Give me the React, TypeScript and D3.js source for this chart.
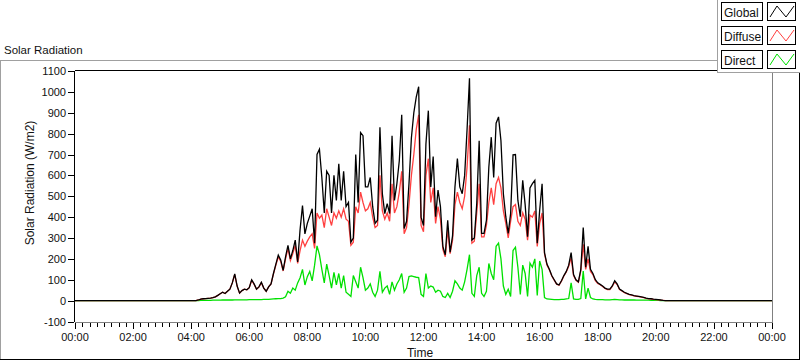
import React from 'react';
import * as d3 from 'd3';

const W = 800;
const H = 361;

const seriesNames = ['Global', 'Diffuse', 'Direct'];
const seriesColors = ['#000000', '#ff4040', '#00e000'];
const yTickValues = [-100, 0, 100, 200, 300, 400, 500, 600, 700, 800, 900, 1000, 1100];
const xTickLabels = ['00:00', '02:00', '04:00', '06:00', '08:00', '10:00', '12:00', '14:00', '16:00', '18:00', '20:00', '22:00', '00:00'];

// samples every 5 minutes from 04:00 to 20:30 (values in W/m2)
const startMinute = 240;
const stepMinutes = 5;

const globalValues = [
  0, 0, 0, 3, 7, 9, 10, 11, 12, 14, 18, 25, 33,
  40, 34, 45, 55, 85, 128, 70, 36, 48, 55, 52, 62,
  100, 80, 55, 66, 88, 60, 45, 66, 80, 130, 175, 218,
  195, 145, 210, 265, 200, 240, 290, 185, 340, 455, 320, 370,
  405, 440, 275, 700, 725, 590, 420, 620, 600, 420, 600, 480,
  655, 480, 620, 450, 470, 280, 300, 700, 470, 805, 790, 545,
  545, 590, 450, 370, 385, 830, 512, 417, 465, 417, 790, 480,
  560, 670, 890, 345, 380, 560, 780, 900, 975, 1025, 400, 360,
  750, 910, 545, 690, 402, 530, 450, 260, 220, 385, 232, 310,
  545, 680, 545, 512, 600, 820, 1065, 290, 300, 465, 766, 322,
  322, 385, 640, 783, 590, 850, 880, 766, 512, 402, 322, 417,
  698, 700, 480, 402, 576, 460, 306, 540, 560, 576, 275, 433,
  560, 230, 175, 150, 120, 100, 80, 75, 95, 120, 140, 170,
  230, 125, 100, 90, 150, 350, 160, 260, 150, 130, 100, 85,
  78, 70, 60, 55, 55, 70, 95, 80, 55, 48, 40, 35,
  30, 27, 24, 22, 20, 18, 15, 12, 10, 9, 7, 6,
  5, 3, 1, 0, 0, 0,
];

const diffuseValues = [
  0, 0, 0, 3, 7, 9, 10, 11, 12, 14, 18, 25, 33,
  40, 34, 45, 55, 85, 125, 68, 36, 48, 55, 52, 62,
  97, 78, 55, 65, 86, 60, 45, 66, 80, 128, 170, 210,
  188, 142, 200, 250, 192, 225, 265, 178, 240, 290, 260, 285,
  305, 320, 250, 420, 395, 410, 350, 440, 400, 360, 420, 395,
  430, 400, 440, 390, 380, 265, 280, 450, 420, 520, 470, 430,
  440, 470, 400, 350, 360, 600, 430, 390, 420, 380, 560, 420,
  450, 520, 620, 320, 350, 460, 600, 700, 820, 890, 360, 330,
  600, 680, 470, 540, 370, 450, 390, 245, 210, 340, 225, 290,
  460, 520, 470, 440, 500, 640, 840, 275, 285, 420, 560, 305,
  305, 360, 470, 540, 460, 560, 590, 540, 430, 370, 300, 380,
  450, 460, 380, 360, 420, 390, 290, 410, 400, 430, 260, 370,
  420, 225, 170, 148, 118, 98, 79, 74, 93, 118, 137, 165,
  205, 120, 97, 88, 142, 270, 150, 200, 140, 125, 96, 82,
  76, 68, 58, 53, 53, 68, 90, 77, 53, 46, 38, 34,
  29, 26, 23, 21, 19, 17, 14, 11, 9, 8, 6, 5,
  4, 2, 1, 0, 0, 0,
];

const directValues = [
  0, 0, 0, 0, 1, 1, 1, 1, 1, 2, 2, 2, 2,
  3, 3, 3, 3, 3, 4, 4, 4, 4, 4, 4, 5,
  5, 5, 5, 5, 5, 6, 6, 6, 7, 8, 9, 10,
  10, 12, 18, 45, 35, 60, 50, 85, 110, 150, 75, 115,
  140, 95, 170, 262, 220, 150, 85, 175, 120, 60, 135, 75,
  130, 60, 120, 40, 30, 20, 120, 90, 60, 160, 110, 50,
  60, 80, 40, 20, 50, 140, 40, 60, 70, 30, 90, 50,
  80, 100, 130, 40, 60, 115, 118, 115, 112, 110, 30, 20,
  130, 60, 70, 65, 40, 50, 45, 20, 15, 35, 15, 45,
  95, 80, 60, 50, 90, 150, 220, 35, 20, 120, 160, 35,
  20, 45, 178, 130, 100, 260, 275, 200, 70, 30, 55, 20,
  240, 256, 160, 30, 170, 130, 20, 180, 160, 200, 25, 190,
  150, 15, 8, 7, 6, 5, 5, 5, 6, 6, 8, 10,
  85, 8, 6, 6, 10, 142, 8, 60, 15, 8, 6, 5,
  5, 5, 4, 4, 4, 5, 6, 5, 4, 4, 3, 3,
  3, 3, 3, 2, 2, 2, 2, 2, 2, 1, 1, 1,
  1, 0, 0, 0, 0, 0,
];

const FONT = '"Liberation Sans", Arial, sans-serif';

export default function App() {
  const x = d3.scaleLinear().domain([0, 1440]).range([75, 772]);
  const y = d3.scaleLinear().domain([-100, 1100]).range([321.5, 71]);

  const toPoints = (vals: number[]): [number, number][] => [
    [0, 0],
    ...vals.map((v, i) => [startMinute + i * stepMinutes, v] as [number, number]),
    [1440, 0],
  ];
  const line = d3
    .line<[number, number]>()
    .x((d) => x(d[0]))
    .y((d) => y(d[1]));

  const allSeries = [globalValues, diffuseValues, directValues];
  // draw order: Direct, Diffuse, Global on top
  const drawOrder = [2, 1, 0];

  const majorTicks = d3.range(0, 1441, 120);
  const minorTicks = d3.range(0, 1441, 15).filter((m) => m % 120 !== 0);

  const legendRows = [2, 26, 50];

  return (
    <svg
      width={W}
      height={H}
      style={{ position: 'absolute', left: 0, top: 0, background: '#fff' }}
      fontFamily={FONT}
    >
      <rect x={0} y={0} width={W} height={H} fill="#ffffff" />
      {/* panel title */}
      <text x={4} y={54} fontSize={11.5} fill="#111">Solar Radiation</text>
      {/* panel frame */}
      <line x1={0} y1={60.5} x2={717} y2={60.5} stroke="#a0a0a0" />
      <line x1={0.5} y1={60} x2={0.5} y2={360} stroke="#a0a0a0" />
      <line x1={0} y1={359.5} x2={800} y2={359.5} stroke="#000" />
      <line x1={799.5} y1={72} x2={799.5} y2={360} stroke="#000" />

      {/* plot area */}
      <rect x={75} y={71} width={697} height={251} fill="#fff" />
      <g shapeRendering="crispEdges">
        <line x1={74.5} y1={70.5} x2={772} y2={70.5} stroke="#000" />
        <line x1={74.5} y1={70.5} x2={74.5} y2={322} stroke="#000" />
        <line x1={772.5} y1={71} x2={772.5} y2={322.5} stroke="#808080" />
        <line x1={75} y1={322} x2={773} y2={322} stroke="#808080" />
      </g>

      {/* series */}
      <g fill="none" strokeWidth={1.3}>
        {drawOrder.map((k) => (
          <path key={seriesNames[k]} d={line(toPoints(allSeries[k])) || ''} stroke={seriesColors[k]} />
        ))}
      </g>

      {/* y axis */}
      <g shapeRendering="crispEdges">
        {yTickValues.map((v) => (
          <line key={v} x1={68} x2={74} y1={Math.round(y(v)) + 0.5} y2={Math.round(y(v)) + 0.5} stroke="#000" />
        ))}
      </g>
      {yTickValues.map((v) => (
        <text key={v} x={66} y={y(v) + 4} fontSize={11} textAnchor="end" fill="#111">
          {v}
        </text>
      ))}
      <text
        transform={`translate(34,183) rotate(-90)`}
        fontSize={12}
        textAnchor="middle"
        fill="#111"
      >
        Solar Radiation (W/m2)
      </text>

      {/* x axis */}
      <g shapeRendering="crispEdges">
        {majorTicks.map((m) => (
          <line key={'M' + m} x1={Math.round(x(m)) + 0.5} x2={Math.round(x(m)) + 0.5} y1={323} y2={329} stroke="#000" />
        ))}
        {minorTicks.map((m) => (
          <line key={'m' + m} x1={Math.round(x(m)) + 0.5} x2={Math.round(x(m)) + 0.5} y1={323} y2={327} stroke="#000" />
        ))}
      </g>
      {majorTicks.map((m, i) => (
        <text key={'t' + m} x={x(m)} y={340.5} fontSize={11} textAnchor="middle" fill="#111">
          {xTickLabels[i]}
        </text>
      ))}
      <text x={420} y={357} fontSize={12} textAnchor="middle" fill="#111">Time</text>

      {/* legend */}
      <rect x={717} y={0} width={83} height={72} fill="#fff" />
      <g shapeRendering="crispEdges">
        <line x1={717.5} y1={0} x2={717.5} y2={72.5} stroke="#a0a0a0" />
        <line x1={717} y1={72.5} x2={800} y2={72.5} stroke="#a0a0a0" />
      </g>
      {seriesNames.map((name, i) => {
        const top = legendRows[i];
        return (
          <g key={name}>
            <rect x={721.5} y={top + 0.5} width={41} height={18} fill="#fff" stroke="#000" shapeRendering="crispEdges" />
            <text x={724} y={top + 14.5} fontSize={12} fill="#111">{name}</text>
            <rect x={767.5} y={top + 0.5} width={28} height={18} fill="#fff" stroke="#000" shapeRendering="crispEdges" />
            <polyline
              points={`${770},${top + 15} ${777},${top + 4} ${786},${top + 15} ${794},${top + 4}`}
              fill="none"
              stroke={seriesColors[i]}
              strokeWidth={1}
            />
          </g>
        );
      })}
    </svg>
  );
}
